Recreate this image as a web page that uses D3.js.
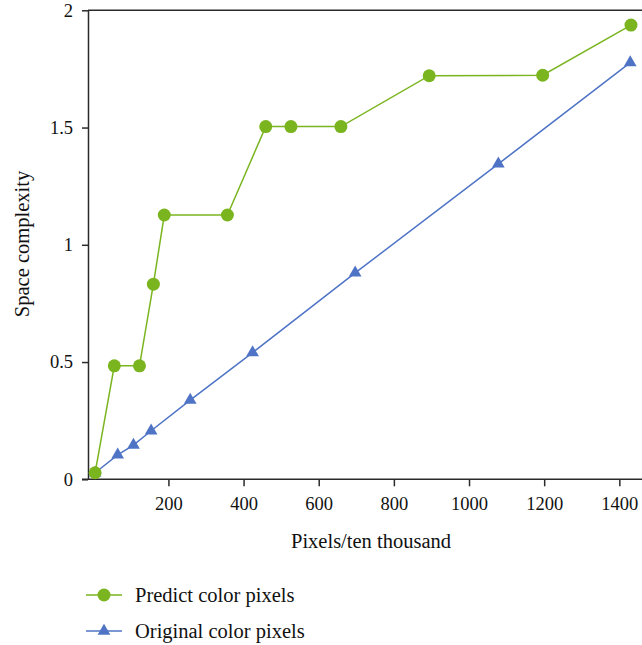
<!DOCTYPE html>
<html>
<head>
<meta charset="utf-8">
<script src="https://cdn.jsdelivr.net/npm/d3@7"></script>
<style>
  body { margin: 0; background: #fff; }
  svg { display: block; font-family: "Liberation Serif", "Times New Roman", serif; }
</style>
</head>
<body>
<div id="chart"></div>
<script>
// data
let predictX = [5, 56, 123, 160, 189, 357, 459, 526, 659, 894, 1196, 1431];
let predictY = [0.028, 0.484, 0.484, 0.832, 1.127, 1.127, 1.504, 1.504, 1.504, 1.721, 1.723, 1.937];
let originalX = [5, 65, 107, 154, 258, 424, 697, 1078, 1429];
let originalY = [0.028, 0.104, 0.146, 0.207, 0.338, 0.54, 0.88, 1.345, 1.777];
let xTicks = [200, 400, 600, 800, 1000, 1200, 1400];
let yTicks = [0, 0.5, 1, 1.5, 2];
let seriesNames = ["Predict color pixels", "Original color pixels"];

let W = 642, H = 645;
let green = "#7ab51f", blue = "#4f74c6", axisCol = "#2b2b2b";

let svg = d3.select("#chart").append("svg")
    .attr("width", W)
    .attr("height", H);

let x = d3.scaleLinear().domain([-14, 1480]).range([88, 649.4]);
let y = d3.scaleLinear().domain([0, 2]).range([479.3, 10.3]);

// x axis
let xAxis = svg.append("g")
    .attr("transform", "translate(0," + y(0) + ")")
    .call(d3.axisBottom(x).tickValues(xTicks).tickSize(7).tickPadding(11).tickSizeOuter(0)
        .tickFormat(d => String(d)));
xAxis.select(".domain").attr("d", "M82,0H" + W);

// y axis
let yAxis = svg.append("g")
    .attr("transform", "translate(88,0)")
    .call(d3.axisLeft(y).tickValues(yTicks).tickSize(6).tickPadding(9).tickSizeOuter(0)
        .tickFormat(d => String(d)));

// top line at y = 2
svg.append("line")
    .attr("x1", 88).attr("x2", W)
    .attr("y1", y(2)).attr("y2", y(2))
    .attr("stroke", axisCol).attr("stroke-width", 1.5);

svg.selectAll(".domain, .tick line")
    .attr("stroke", axisCol)
    .attr("stroke-width", 1.5);
svg.selectAll(".tick text")
    .attr("fill", "#111")
    .style("font-size", "18.5px")
    .style("font-family", "Liberation Serif, serif");

// axis titles
svg.append("text")
    .attr("x", 371).attr("y", 548)
    .attr("text-anchor", "middle")
    .style("font-size", "20.5px")
    .attr("fill", "#111")
    .text("Pixels/ten thousand");

svg.append("text")
    .attr("transform", "translate(29,244) rotate(-90)")
    .attr("text-anchor", "middle")
    .style("font-size", "20.5px")
    .attr("fill", "#111")
    .text("Space complexity");

let line = d3.line().x(d => x(d[0])).y(d => y(d[1]));
let predict = predictX.map((v, i) => [v, predictY[i]]);
let original = originalX.map((v, i) => [v, originalY[i]]);

let tri = d3.symbol().type(d3.symbolTriangle).size(70);

// original series (blue)
svg.append("path")
    .datum(original)
    .attr("fill", "none")
    .attr("stroke", blue)
    .attr("stroke-width", 1.5)
    .attr("d", line);
svg.append("g").selectAll("path")
    .data(original)
    .enter()
    .append("path")
    .attr("d", tri)
    .attr("transform", d => "translate(" + x(d[0]) + "," + y(d[1]) + ")")
    .attr("fill", blue);

// predict series (green)
svg.append("path")
    .datum(predict)
    .attr("fill", "none")
    .attr("stroke", green)
    .attr("stroke-width", 1.5)
    .attr("d", line);
svg.append("g").selectAll("circle")
    .data(predict)
    .enter()
    .append("circle")
    .attr("cx", d => x(d[0]))
    .attr("cy", d => y(d[1]))
    .attr("r", 6.5)
    .attr("fill", green);

// legend
let legend = svg.append("g");
let legendRows = [
    {name: seriesNames[0], color: green, shape: "circle", y: 595},
    {name: seriesNames[1], color: blue, shape: "triangle", y: 631}
];
legendRows.forEach(function(r) {
    legend.append("line")
        .attr("x1", 86).attr("x2", 122)
        .attr("y1", r.y).attr("y2", r.y)
        .attr("stroke", r.color).attr("stroke-width", 1.5);
    if (r.shape == "circle") {
        legend.append("circle")
            .attr("cx", 104).attr("cy", r.y).attr("r", 6.5)
            .attr("fill", r.color);
    } else {
        legend.append("path")
            .attr("d", tri)
            .attr("transform", "translate(104," + r.y + ")")
            .attr("fill", r.color);
    }
    legend.append("text")
        .attr("x", 135).attr("y", r.y + 7)
        .style("font-size", "20.5px")
        .attr("fill", "#111")
        .text(r.name);
});
</script>
</body>
</html>
